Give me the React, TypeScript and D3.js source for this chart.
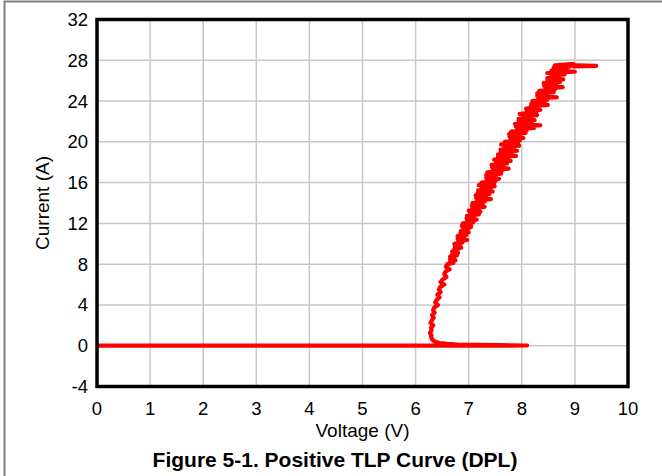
import React from "react";
import * as d3 from "d3";

const xTicks = [0, 1, 2, 3, 4, 5, 6, 7, 8, 9, 10];
const yTicks = [-4, 0, 4, 8, 12, 16, 20, 24, 28, 32];

// Leakage / snapback section (V, I)
const offVoltage = [0, 8.1, 7.6, 7.1, 6.8, 6.6, 6.45, 6.37, 6.32, 6.3, 6.29];
const offCurrent = [0, 0.02, 0.05, 0.08, 0.12, 0.18, 0.26, 0.38, 0.55, 0.75, 0.95];

// On-state section (V, I) with measurement scatter
const onCurrent = [
  1.0, 1.25, 1.5, 1.75, 2.0, 2.25, 2.5, 2.75, 3.0, 3.25, 3.5, 3.75,
  4.0, 4.25, 4.5, 4.75, 5.0, 5.25, 5.5, 5.75, 6.0, 6.25, 6.5, 6.75,
  7.0, 7.25, 7.5, 7.75,
  8.0, 8.125, 8.25, 8.375, 8.5, 8.625, 8.75, 8.875,
  9.0, 9.125, 9.25, 9.375, 9.5, 9.625, 9.75, 9.875,
  10.0, 10.125, 10.25, 10.375, 10.5, 10.625, 10.75, 10.875,
  11.0, 11.125, 11.25, 11.375, 11.5, 11.625, 11.75, 11.875,
  12.0, 12.125, 12.25, 12.375, 12.5, 12.625, 12.75, 12.875,
  13.0, 13.125, 13.25, 13.375, 13.5, 13.625, 13.75, 13.875,
  14.0, 14.125, 14.25, 14.375, 14.5, 14.625, 14.75, 14.875,
  15.0, 15.125, 15.25, 15.375, 15.5, 15.625, 15.75, 15.875,
  16.0, 16.125, 16.25, 16.375, 16.5, 16.625, 16.75, 16.875,
  17.0, 17.125, 17.25, 17.375, 17.5, 17.625, 17.75, 17.875,
  18.0, 18.125, 18.25, 18.375, 18.5, 18.625, 18.75, 18.875,
  19.0, 19.125, 19.25, 19.375, 19.5, 19.625, 19.75, 19.875,
  20.0, 20.125, 20.25, 20.375, 20.5, 20.625, 20.75, 20.875,
  21.0, 21.125, 21.25, 21.375, 21.5, 21.625, 21.75, 21.875,
  22.0, 22.125, 22.25, 22.375, 22.5, 22.625, 22.75, 22.875,
  23.0, 23.125, 23.25, 23.375, 23.5, 23.625, 23.75, 23.875,
  24.0, 24.125, 24.25, 24.375, 24.5, 24.625, 24.75, 24.875,
  25.0, 25.125, 25.25, 25.375, 25.5, 25.625, 25.75, 25.875,
  26.0, 26.125, 26.25, 26.375, 26.5, 26.625, 26.75, 26.875,
  27.0, 27.125, 27.25, 27.375, 27.5, 27.6, 27.55, 27.45, 27.4
];
const onVoltage = [
  6.3, 6.27, 6.3, 6.29, 6.33, 6.28, 6.31, 6.34, 6.31, 6.36, 6.33, 6.35,
  6.42, 6.37, 6.4, 6.45, 6.41, 6.47, 6.44, 6.46, 6.54, 6.47, 6.51, 6.58,
  6.54, 6.56, 6.64, 6.57,
  6.6, 6.71, 6.65, 6.75, 6.65, 6.73, 6.65, 6.78,
  6.69, 6.8, 6.69, 6.79, 6.73, 6.86, 6.74, 6.84,
  6.73, 6.88, 6.8, 6.97, 6.79, 6.91, 6.79, 6.96,
  6.84, 7.0, 6.85, 6.98, 6.9, 7.04, 6.87, 7.05,
  6.89, 7.09, 6.97, 7.15, 6.96, 7.1, 6.97, 7.19,
  7.03, 7.22, 7.0, 7.19, 7.07, 7.3, 7.06, 7.26,
  7.07, 7.3, 7.16, 7.42, 7.14, 7.33, 7.13, 7.39,
  7.17, 7.45, 7.18, 7.41, 7.25, 7.49, 7.19, 7.48,
  7.24, 7.5, 7.34, 7.57, 7.33, 7.51, 7.33, 7.61,
  7.35, 7.62, 7.46, 7.75, 7.44, 7.65, 7.43, 7.72,
  7.51, 7.79, 7.48, 7.74, 7.55, 7.89, 7.55, 7.81,
  7.6, 7.91, 7.6, 7.85, 7.68, 7.95, 7.61, 7.93,
  7.68, 7.96, 7.79, 8.03, 7.77, 7.97, 7.76, 8.07,
  7.8, 8.09, 7.92, 8.23, 7.89, 8.35, 7.87, 8.18,
  7.94, 8.24, 7.94, 8.18, 8.03, 8.29, 7.96, 8.27,
  8.09, 8.35, 8.08, 8.32, 8.17, 8.49, 8.18, 8.43,
  8.2, 8.48, 8.31, 8.66, 8.29, 8.5, 8.29, 8.6,
  8.33, 8.62, 8.45, 8.77, 8.42, 8.65, 8.41, 8.72,
  8.48, 8.78, 8.48, 8.72, 8.56, 8.81, 8.48, 9.0,
  8.56, 8.85, 8.6, 8.9, 8.62, 8.98, 8.7, 9.4, 8.95
];

const W = 662;
const H = 476;
const plot = { left: 97, right: 628, top: 19.5, bottom: 386.5 };

export default function App() {
  const x = d3.scaleLinear().domain([0, 10]).range([plot.left, plot.right]);
  const y = d3.scaleLinear().domain([-4, 32]).range([plot.bottom, plot.top]);

  const pts: [number, number][] = [];
  offVoltage.forEach((v, i) => pts.push([v, offCurrent[i]]));
  onVoltage.forEach((v, i) => pts.push([v, onCurrent[i]]));

  const line = d3
    .line<[number, number]>()
    .x((d) => x(d[0]))
    .y((d) => y(d[1]));

  const font = "Arial, 'Liberation Sans', sans-serif";

  return (
    <div style={{ position: "fixed", left: 0, top: 0 }}>
      <svg width={W} height={H} style={{ display: "block", background: "#fff" }}>
        <rect x={0} y={0} width={W} height={H} fill="#fff" />
        <path
          d={`M4.5,${H + 5} L4.5,1.5 L${W + 5},1.5`}
          fill="none"
          stroke="#7f7f7f"
          strokeWidth={2}
        />
        {xTicks.map((t) => (
          <line
            key={"gx" + t}
            x1={x(t)}
            x2={x(t)}
            y1={plot.top}
            y2={plot.bottom}
            stroke="#c8c8c8"
            strokeWidth={1.5}
          />
        ))}
        {yTicks.map((t) => (
          <line
            key={"gy" + t}
            x1={plot.left}
            x2={plot.right}
            y1={y(t)}
            y2={y(t)}
            stroke="#c8c8c8"
            strokeWidth={1.5}
          />
        ))}
        <path
          d={line(pts) || ""}
          fill="none"
          stroke="#ff0000"
          strokeWidth={4.2}
          strokeLinejoin="round"
          strokeLinecap="butt"
        />
        <rect
          x={plot.left}
          y={plot.top}
          width={plot.right - plot.left}
          height={plot.bottom - plot.top}
          fill="none"
          stroke="#000"
          strokeWidth={3.5}
        />
        {yTicks.map((t) => (
          <text
            key={"ty" + t}
            x={88}
            y={y(t)}
            dy="0.35em"
            textAnchor="end"
            fontFamily={font}
            fontSize={18.5}
            fill="#000"
          >
            {t}
          </text>
        ))}
        {xTicks.map((t) => (
          <text
            key={"tx" + t}
            x={x(t)}
            y={415}
            textAnchor="middle"
            fontFamily={font}
            fontSize={18.5}
            fill="#000"
          >
            {t}
          </text>
        ))}
        <text
          x={(plot.left + plot.right) / 2}
          y={437}
          textAnchor="middle"
          fontFamily={font}
          fontSize={19}
          fill="#000"
        >
          Voltage (V)
        </text>
        <text
          transform={`translate(49, ${(plot.top + plot.bottom) / 2}) rotate(-90)`}
          textAnchor="middle"
          fontFamily={font}
          fontSize={19}
          fill="#000"
        >
          Current (A)
        </text>
        <text
          x={335}
          y={467}
          textAnchor="middle"
          fontFamily={font}
          fontSize={21}
          fontWeight="bold"
          fill="#000"
        >
          Figure 5-1. Positive TLP Curve (DPL)
        </text>
      </svg>
    </div>
  );
}
